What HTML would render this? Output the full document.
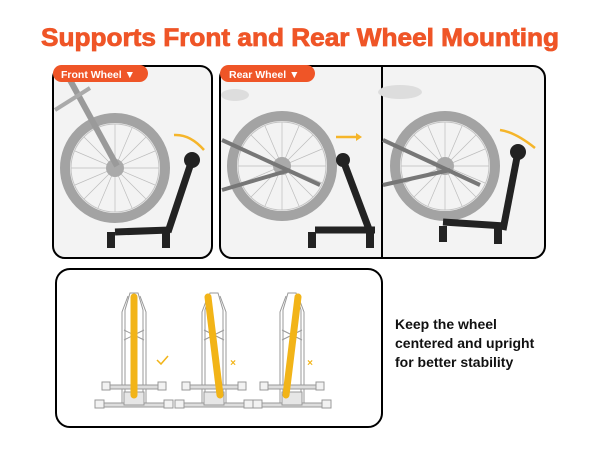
<!DOCTYPE html>
<html><head><style>
body{margin:0;background:#fff;}
svg{display:block}
</style></head><body>
<svg width="600" height="450" xmlns="http://www.w3.org/2000/svg" font-family="Liberation Sans, sans-serif">
<rect width="600" height="450" fill="#fff"/>
<text x="300" y="46" text-anchor="middle" font-size="25" font-weight="bold" fill="#ef5527" stroke="#ef5527" stroke-width="0.8" textLength="518" lengthAdjust="spacingAndGlyphs">Supports Front and Rear Wheel Mounting</text>
<defs>
<g id="wheel">
<circle r="50" fill="none" stroke="#a3a3a3" stroke-width="10"/>
<circle r="44" fill="none" stroke="#c4c4c4" stroke-width="1"/>
<g stroke="#bdbdbd" stroke-width="0.7">
<line x1="-44" y1="0" x2="44" y2="0"/><line x1="0" y1="-44" x2="0" y2="44"/>
<line x1="-31" y1="-31" x2="31" y2="31"/><line x1="-31" y1="31" x2="31" y2="-31"/>
<line x1="-40" y1="-17" x2="40" y2="17"/><line x1="-40" y1="17" x2="40" y2="-17"/>
<line x1="-17" y1="-40" x2="17" y2="40"/><line x1="-17" y1="40" x2="17" y2="-40"/>
</g>
<circle r="9" fill="#aaa"/>
</g>
<g id="rack" fill="none" stroke="#999" stroke-width="1">
<path d="M-9 405 L-9 310 L-4 293 L4 293 L9 310 L9 405"/>
<path d="M-12 405 L-12 312 L-6 296"/>
<path d="M12 405 L12 312 L6 296"/>
<rect x="-30" y="385" width="60" height="4" fill="#ddd"/>
<rect x="-37" y="403" width="74" height="4" fill="#ddd"/>
<rect x="-32" y="382" width="8" height="8" fill="#f2f2f2"/><rect x="24" y="382" width="8" height="8" fill="#f2f2f2"/>
<rect x="-39" y="400" width="9" height="8" fill="#f2f2f2"/><rect x="30" y="400" width="9" height="8" fill="#f2f2f2"/>
<rect x="-10" y="392" width="20" height="13" fill="#e6e6e6"/>
<path d="M-10 330 L10 340 M-10 340 L10 330"/>
</g>
</defs>
<!-- panel 1 -->
<rect x="53" y="66" width="159" height="192" rx="12" fill="#f3f3f3" stroke="#000" stroke-width="2"/>
<use href="#wheel" x="115" y="168"/>
<line x1="70" y1="80" x2="117" y2="166" stroke="#9a9a9a" stroke-width="6"/>
<line x1="55" y1="110" x2="90" y2="88" stroke="#aaa" stroke-width="4"/>
<line x1="192" y1="160" x2="168" y2="232" stroke="#222" stroke-width="7"/>
<circle cx="192" cy="160" r="8" fill="#222"/>
<line x1="115" y1="232" x2="170" y2="230" stroke="#222" stroke-width="7"/>
<rect x="107" y="232" width="8" height="16" fill="#222"/><rect x="162" y="232" width="8" height="16" fill="#222"/>
<path d="M174 135 Q190 134 204 150" fill="none" stroke="#f5b52a" stroke-width="2.5"/>
<rect x="53" y="65" width="95" height="17" rx="8.5" fill="#ef5527"/>
<text x="61" y="78" font-size="10.5" font-weight="bold" fill="#fff">Front Wheel ▼</text>
<!-- panel 2 & 3 -->
<rect x="220" y="66" width="325" height="192" rx="12" fill="#f3f3f3" stroke="#000" stroke-width="2"/>
<use href="#wheel" x="282" y="166"/>
<line x1="222" y1="140" x2="320" y2="185" stroke="#777" stroke-width="4"/>
<line x1="222" y1="190" x2="290" y2="170" stroke="#777" stroke-width="4"/>
<ellipse cx="235" cy="95" rx="14" ry="6" fill="#ddd"/>
<line x1="343" y1="160" x2="370" y2="232" stroke="#222" stroke-width="7"/>
<circle cx="343" cy="160" r="7" fill="#222"/>
<line x1="315" y1="230" x2="375" y2="230" stroke="#222" stroke-width="7"/>
<rect x="308" y="232" width="8" height="16" fill="#222"/><rect x="366" y="232" width="8" height="16" fill="#222"/>
<path d="M336 137 L360 137" stroke="#f5b52a" stroke-width="2.5"/><path d="M356 133 L362 137 L356 141" fill="#f5b52a"/>
<line x1="382" y1="66" x2="382" y2="258" stroke="#000" stroke-width="2"/>
<use href="#wheel" x="445" y="166"/>
<line x1="383" y1="140" x2="480" y2="185" stroke="#777" stroke-width="4"/>
<line x1="383" y1="185" x2="450" y2="170" stroke="#777" stroke-width="4"/>
<ellipse cx="400" cy="92" rx="22" ry="7" fill="#ddd"/>
<line x1="518" y1="152" x2="503" y2="230" stroke="#222" stroke-width="7"/>
<circle cx="518" cy="152" r="8" fill="#222"/>
<line x1="443" y1="222" x2="505" y2="226" stroke="#222" stroke-width="7"/>
<rect x="439" y="226" width="8" height="16" fill="#222"/><rect x="494" y="228" width="8" height="16" fill="#222"/>
<path d="M500 130 Q515 132 535 148" fill="none" stroke="#f5b52a" stroke-width="2.5"/>
<rect x="220" y="65" width="95" height="17" rx="8.5" fill="#ef5527"/>
<text x="229" y="78" font-size="10.5" font-weight="bold" fill="#fff">Rear Wheel  ▼</text>
<!-- bottom -->
<rect x="56" y="269" width="326" height="158" rx="14" fill="#fff" stroke="#000" stroke-width="2"/>
<use href="#rack" x="134" y="0"/>
<use href="#rack" x="214" y="0"/>
<use href="#rack" x="292" y="0"/>
<line x1="134" y1="297" x2="134" y2="395" stroke="#f2b418" stroke-width="7" stroke-linecap="round"/>
<line x1="208" y1="297" x2="220" y2="395" stroke="#f2b418" stroke-width="7" stroke-linecap="round"/>
<line x1="298" y1="297" x2="286" y2="395" stroke="#f2b418" stroke-width="7" stroke-linecap="round"/>
<path d="M157 360 L161 364 L168 356" fill="none" stroke="#f2b418" stroke-width="1.5"/>
<text x="233" y="366" font-size="10" font-weight="bold" fill="#f2b418" text-anchor="middle">×</text>
<text x="310" y="366" font-size="10" font-weight="bold" fill="#f2b418" text-anchor="middle">×</text>
<text font-size="14" font-weight="bold" fill="#111">
<tspan x="395" y="329">Keep the wheel</tspan>
<tspan x="395" y="348">centered and upright</tspan>
<tspan x="395" y="367">for better stability</tspan>
</text>
</svg>
</body></html>
